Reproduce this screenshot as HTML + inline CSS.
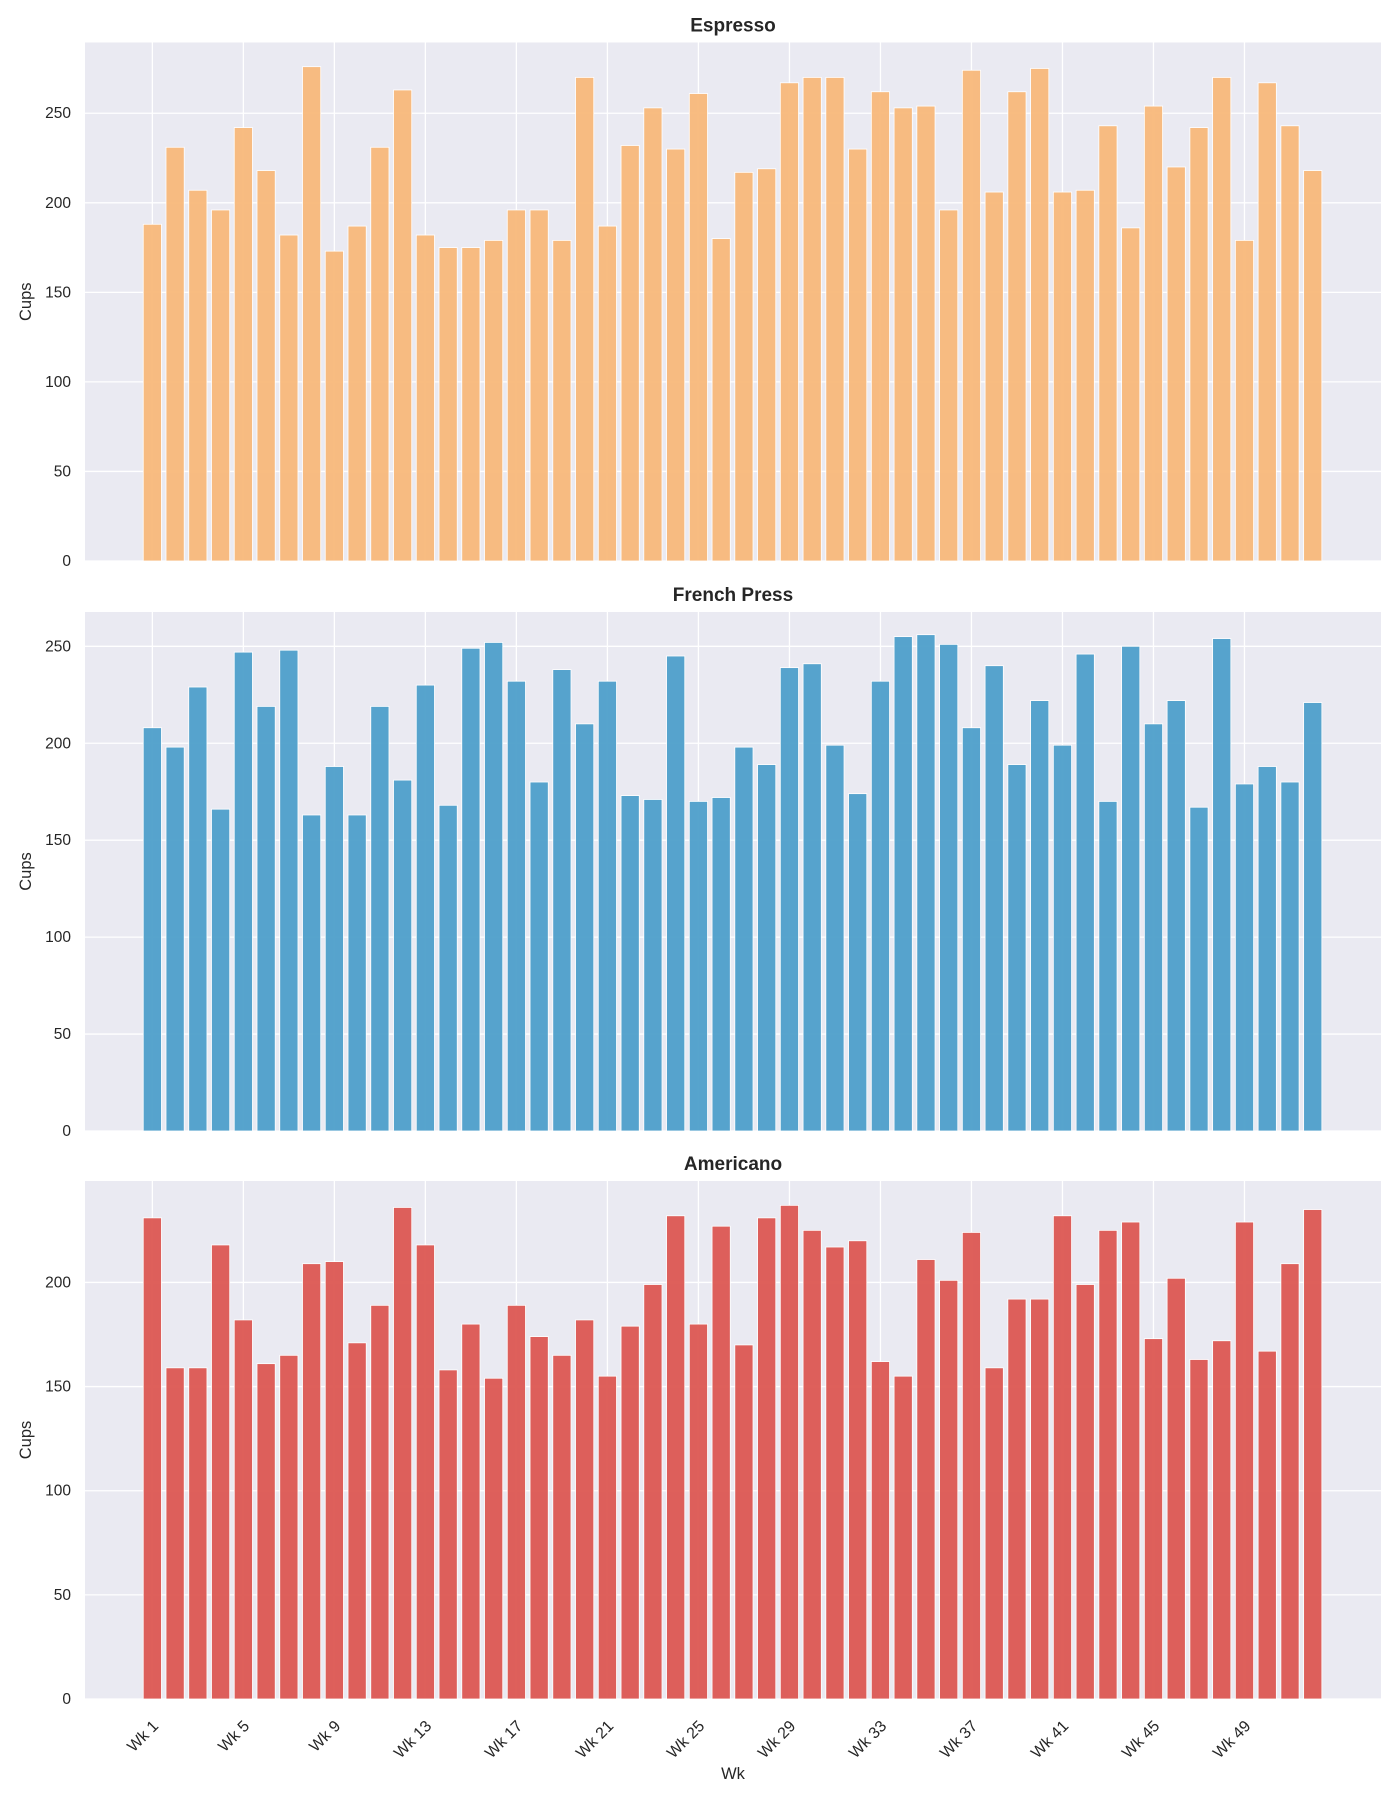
<!DOCTYPE html>
<html><head><meta charset="utf-8">
<style>
body{margin:0;background:#fff;}
svg{display:block;font-family:"Liberation Sans","DejaVu Sans",sans-serif;}
</style></head>
<body>
<svg id="chart" width="1400" height="1800" viewBox="0 0 1400 1800" xmlns="http://www.w3.org/2000/svg"></svg>
<script>
const weeks = Array.from({length:52},(_,i)=>'Wk '+(i+1));
const espresso = [188,231,207,196,242,218,182,276,173,187,231,263,182,175,175,179,196,196,179,270,187,232,253,230,261,180,217,219,267,270,270,230,262,253,254,196,274,206,262,275,206,207,243,186,254,220,242,270,179,267,243,218];
const frenchPress = [208,198,229,166,247,219,248,163,188,163,219,181,230,168,249,252,232,180,238,210,232,173,171,245,170,172,198,189,239,241,199,174,232,255,256,251,208,240,189,222,199,246,170,250,210,222,167,254,179,188,180,221];
const americano = [231,159,159,218,182,161,165,209,210,171,189,236,218,158,180,154,189,174,165,182,155,179,199,232,180,227,170,231,237,225,217,220,162,155,211,201,224,159,192,192,232,199,225,229,173,202,163,172,229,167,209,235];
const yTicks = [0,50,100,150,200,250];
const seriesNames = ['Espresso','French Press','Americano'];

const panels = [
  {title:'Espresso', data:espresso, color:'#f8b87a', top:42.5, bottom:561, ymax:289.5, name:'espresso'},
  {title:'French Press', data:frenchPress, color:'#4e9fca', top:612, bottom:1131, ymax:267.7, name:'french-press'},
  {title:'Americano', data:americano, color:'#dc5752', top:1181, bottom:1699, ymax:248.7, name:'americano'}
];
const L=85, R=1381, xmin=-2.96, xmax=54.0;
const svg=document.getElementById('chart');
const NS='http://www.w3.org/2000/svg';
function mk(tag,attrs,parent){const e=document.createElementNS(NS,tag);for(const k in attrs)e.setAttribute(k,attrs[k]);(parent||svg).appendChild(e);return e;}
const xs=i=>L+(i-xmin)/(xmax-xmin)*(R-L);
const bw=0.8*(R-L)/(xmax-xmin);

panels.forEach((p,pi)=>{
  const ys=v=>p.bottom-v/p.ymax*(p.bottom-p.top);
  const g=mk('g',{});
  
  
  const bg=mk('rect',{x:L,y:p.top,width:R-L,height:p.bottom-p.top,fill:'#eaeaf2'},g);
  
  
  yTicks.forEach(t=>{
    if(t>p.ymax)return;
    const gl=mk('line',{x1:L,x2:R,y1:ys(t),y2:ys(t),stroke:'#fff','stroke-width':1.3},g);
    
    
    const tl=mk('text',{x:L-14,y:ys(t)+5,'text-anchor':'end','font-size':15.5,fill:'#262626'},g);
    tl.textContent=t;
    
    
  });
  for(let i=0;i<52;i+=4){
    const gl=mk('line',{x1:xs(i),x2:xs(i),y1:p.top,y2:p.bottom,stroke:'#fff','stroke-width':1.3},g);
    
    
  }
  p.data.forEach((v,i)=>{
    const b=mk('rect',{x:xs(i)-bw/2,y:ys(v),width:bw,height:ys(0)-ys(v),fill:p.color,stroke:'#fff','stroke-width':0.8,'fill-opacity':0.95},g);
    
    
  });
  const tt=mk('text',{x:(L+R)/2,y:p.top-11,'text-anchor':'middle','font-size':19,'font-weight':'bold',fill:'#262626'},g);
  tt.textContent=p.title;
  
  
  const yl=mk('text',{x:0,y:0,'text-anchor':'middle','font-size':16.5,fill:'#262626',transform:`translate(31,${(p.top+p.bottom)/2}) rotate(-90)`},g);
  yl.textContent='Cups';
  
  
});
for(let i=0;i<52;i+=4){
  const x=xs(i), y=1720;
  const t=mk('text',{x:0,y:0,'text-anchor':'end','font-size':16,fill:'#262626',transform:`translate(${x+7},${y+7}) rotate(-45)`});
  t.textContent=weeks[i];
  
  
}
const xl=mk('text',{x:(L+R)/2,y:1779,'text-anchor':'middle','font-size':16.5,fill:'#262626'});
xl.textContent='Wk';


</script>
</body></html>
